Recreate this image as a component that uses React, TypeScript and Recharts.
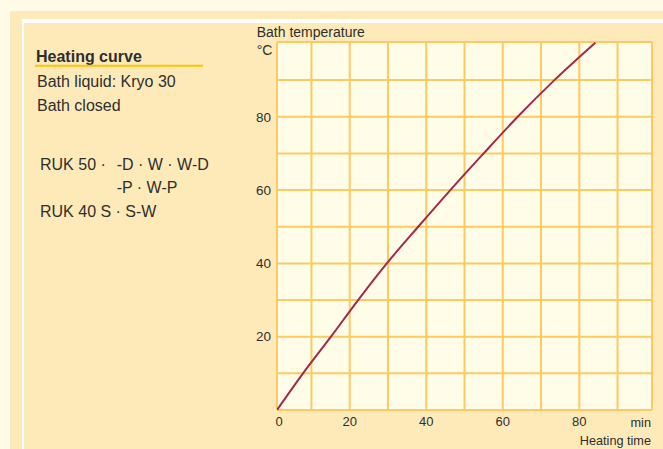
import React from "react";
import { LineChart, Line, XAxis, YAxis, CartesianGrid } from "recharts";

// Heating curve: bath temperature (°C) vs heating time (min)
const heatingTime = [1, 7.8, 15.1, 22.2, 29.7, 37.9, 46.3, 55.0, 63.9, 73.5, 84.2];
const bathTemperature = [0, 10, 20, 30, 40, 50, 60, 70, 80, 90, 100.2];

const xTickLabels = [0, 20, 40, 60, 80];
const yTickLabels = [20, 40, 60, 80];
const xGridValues = [10, 20, 30, 40, 50, 60, 70, 80, 90];
const yGridValues = [10, 20, 30, 40, 50, 60, 70, 80, 90];

const xDomain = [1, 99];
const yDomain = [0, 100.4];

const data = heatingTime.map((t, i) => ({ time: t, temp: bathTemperature[i] }));

const FONT = "'Liberation Sans', Arial, Helvetica, sans-serif";
const TEXT = "#2e2e2e";

const XTick = (props: any) => {
  const { x, y, payload } = props;
  const shift = payload.value === 0 ? 6 : 0;
  return (
    <text x={x + shift} y={y} dy="0.71em" textAnchor="middle" fill={TEXT} fontSize={13} fontFamily={FONT}>
      {payload.value}
    </text>
  );
};

export default function App() {
  return (
    <div style={{ position: "absolute", left: 0, top: 0, width: 663, height: 449, background: "#fffbe6", overflow: "hidden" }}>
      <div style={{ position: "absolute", left: 10, top: 11, right: 0, bottom: 0, background: "#feeab9" }} />
      <div style={{ position: "absolute", left: 22, top: 19, right: 0, bottom: 0, background: "#ffffff" }} />
      <div style={{ position: "absolute", left: 24, top: 23, right: 0, bottom: 0, background: "#feeab9" }} />
      <div style={{ position: "absolute", left: 0, top: 0 }}>
        <LineChart width={663} height={449} data={data} margin={{ top: 42, right: 11, bottom: 9, left: 247 }}>
          <XAxis xAxisId="g" dataKey="time" type="number" domain={xDomain} allowDataOverflow ticks={xGridValues} hide />
          <YAxis yAxisId="g" type="number" domain={yDomain} allowDataOverflow ticks={yGridValues} hide />
          <CartesianGrid xAxisId="g" yAxisId="g" fill="#fffce8" stroke="#fdca62" strokeWidth={2} />
          <XAxis
            dataKey="time"
            type="number"
            domain={xDomain}
            allowDataOverflow
            ticks={xTickLabels}
            interval={0}
            height={30}
            axisLine={false}
            tickLine={false}
            tickMargin={1}
            tick={<XTick />}
          />
          <YAxis
            type="number"
            domain={yDomain}
            allowDataOverflow
            ticks={yTickLabels}
            interval={0}
            width={30}
            axisLine={false}
            tickLine={false}
            tickMargin={0}
            tick={{ fill: TEXT, fontSize: 13.5, fontFamily: FONT }}
          />
          <Line
            type="monotone"
            dataKey="temp"
            stroke="#a3284b"
            strokeWidth={2}
            dot={false}
            isAnimationActive={false}
          />
        </LineChart>
      </div>
      <svg width={663} height={449} style={{ position: "absolute", left: 0, top: 0, pointerEvents: "none" }}>
        <g fontFamily={FONT} fill={TEXT}>
          <text x={36} y={61.5} fontSize={16} fontWeight="bold">Heating curve</text>
          <line x1={35} x2={203} y1={65.7} y2={65.7} stroke="#ffc400" strokeWidth={2} />
          <text x={37} y={86.7} fontSize={16}>Bath liquid: Kryo 30</text>
          <text x={37} y={110.5} fontSize={16}>Bath closed</text>
          <text x={40} y={170} fontSize={16}>RUK 50 ·</text>
          <text x={116.7} y={170} fontSize={16}>-D · W · W-D</text>
          <text x={116.7} y={193.3} fontSize={16}>-P · W-P</text>
          <text x={40} y={216.7} fontSize={16}>RUK 40 S · S-W</text>
          <text x={256.7} y={36.7} fontSize={14}>Bath temperature</text>
          <text x={256.7} y={54.5} fontSize={14}>°C</text>
          <text x={651} y={427} fontSize={12.7} textAnchor="end">min</text>
          <text x={651} y={444.5} fontSize={12.7} textAnchor="end">Heating time</text>
        </g>
      </svg>
    </div>
  );
}
